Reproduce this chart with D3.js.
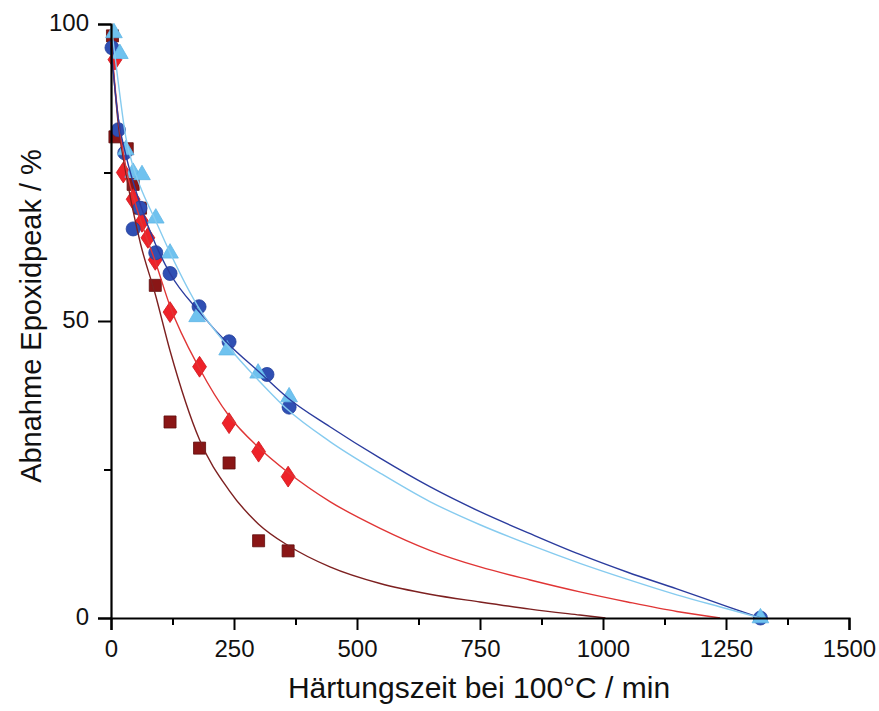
<!DOCTYPE html>
<html><head><meta charset="utf-8">
<script src="https://cdn.jsdelivr.net/npm/d3@7"></script>
<style>body{margin:0;background:#fff}svg{display:block}text{font-family:"Liberation Sans",Arial,sans-serif;fill:#111}</style>
</head><body><svg id="c" width="879" height="711"></svg>
<script>
// ---- data ----
const xTicks = [0,250,500,750,1000,1250,1500];
const xMinor = [125,375,625,875,1125,1375];
const yTicks = [0,50,100];
const yMinor = [25,75];
const xTitle = "Härtungszeit bei 100°C / min";
const yTitle = "Abnahme Epoxidpeak / %";

// measured points [time min, decrease %]
const darkRedPts = [[3,98],[8,81],[33,79],[45,73],[60,69],[90,56],[120,33],[180,28.6],[240,26.1],[300,13],[360,11.3]];
const redPts = [[8,94],[25,75],[45,70.5],[63,66.7],[75,64],[90,60.3],[120,51.5],[180,42.3],[240,32.8],[300,28],[360,23.8]];
const bluePts = [[2,96],[15,82.2],[28,78.3],[45,65.5],[59,69],[91,61.5],[120,58],[179,52.4],[240,46.5],[317,41],[362,35.5],[1320,0]];
const lightBluePts = [[6,98.5],[18,95],[30,78.8],[45,75],[63,74.6],[91,67.3],[120,61.4],[175,50.7],[236,45.1],[299,41.2],[362,37.2],[1320,0]];

// fit curves
const darkRedFit = [[0,97],[15,83],[30,75],[45,68.5],[60,63],[90,54.5],[120,45],[180,30],[240,21.5],[300,15.8],[360,12.2],[445,8.6],[547,5.8],[648,4.0],[750,2.7],[852,1.5],[953,0.5],[1005,0]];
const redFit = [[0,97],[15,84],[30,76],[45,71],[60,67],[90,60],[120,52.5],[180,42],[240,34],[300,28.7],[360,24.5],[445,19.6],[547,15.1],[648,11.4],[750,8.6],[852,6.4],[953,4.4],[1050,2.7],[1150,1.1],[1238,0]];
const blueFit = [[0,96],[15,84],[30,78],[60,69.5],[90,63],[120,58],[180,51.5],[240,46],[300,41.5],[360,37],[445,32.2],[547,26.9],[648,22.1],[750,17.9],[852,14.2],[953,10.7],[1050,7.7],[1150,4.9],[1250,2.0],[1320,0]];
const lightBlueFit = [[0,100],[15,90],[30,81],[45,76],[60,72.5],[90,67],[120,61.5],[180,52],[240,45.5],[300,40],[360,35],[445,29.7],[547,24.4],[648,19.6],[750,15.7],[852,12.3],[953,9.2],[1050,6.5],[1150,3.9],[1250,1.6],[1320,0]];

// ---- drawing ----
const svg = d3.select("#c");
const x = d3.scaleLinear().domain([0,1500]).range([111,849]);
const y = d3.scaleLinear().domain([0,100]).range([618,24]);

const line = d3.line().x(d=>x(d[0])).y(d=>y(d[1])).curve(d3.curveMonotoneX);

const series = [
  {pts: darkRedPts, fit: darkRedFit, fill:"#8a1616", stroke:"#5e0c0c", line:"#7d2020", shape:"square"},
  {pts: redPts, fit: redFit, fill:"#ee2229", stroke:"#d01a20", line:"#e03535", shape:"diamond"},
  {pts: bluePts, fit: blueFit, fill:"#2f4fb3", stroke:"#23409c", line:"#2b3c9e", shape:"circle"},
  {pts: lightBluePts, fit: lightBlueFit, fill:"#6fc2ef", stroke:"#5fb6e6", line:"#86cbef", shape:"triangle"}
];

const g = svg.append("g");
series.forEach(s=>{
  const sym = {square:d3.symbolSquare, diamond:d3.symbolDiamond, circle:d3.symbolCircle, triangle:d3.symbolTriangle}[s.shape];
  const size = {square:145, diamond:125, circle:155, triangle:120}[s.shape];
  g.selectAll(null).data(s.pts).enter().append("path")
    .attr("d", d3.symbol().type(sym).size(size)())
    .attr("transform", d=>`translate(${x(d[0])},${y(d[1])})` + (s.shape==="diamond"?" scale(1.15,1)":""))
    .attr("fill", s.fill).attr("stroke", s.stroke).attr("stroke-width",0.8);
});
series.forEach(s=>{
  g.append("path").datum(s.fit).attr("d", line).attr("fill","none")
    .attr("stroke", s.line).attr("stroke-width",1.4);
});

// axes
const xAxis = svg.append("g").attr("transform","translate(0,618)")
  .call(d3.axisBottom(x).tickValues(xTicks).tickSize(12).tickPadding(10).tickFormat(d3.format("d")));
svg.append("g").attr("transform","translate(0,618)")
  .call(d3.axisBottom(x).tickValues(xMinor).tickSize(7).tickFormat(""))
  .call(a=>a.select(".domain").remove());
const yAxis = svg.append("g").attr("transform","translate(111,0)")
  .call(d3.axisLeft(y).tickValues(yTicks).tickSize(13).tickPadding(9));
svg.append("g").attr("transform","translate(111,0)")
  .call(d3.axisLeft(y).tickValues(yMinor).tickSize(7).tickFormat(""))
  .call(a=>a.select(".domain").remove());

svg.selectAll(".domain").attr("stroke","#000").attr("stroke-width",2.2);
svg.selectAll(".tick line").attr("stroke","#000").attr("stroke-width",2);
svg.selectAll(".tick text").attr("font-size",24).attr("font-family","Liberation Sans, Arial, sans-serif").attr("fill","#111");
yAxis.selectAll(".tick text").attr("dy","0.28em");
xAxis.selectAll(".tick text").attr("dy","0.72em");

svg.append("text").attr("x",479).attr("y",698).attr("text-anchor","middle")
  .attr("font-size",30).text(xTitle);
svg.append("text").attr("transform","translate(41,316) rotate(-90)").attr("text-anchor","middle")
  .attr("font-size",29).text(yTitle);
</script></body></html>
